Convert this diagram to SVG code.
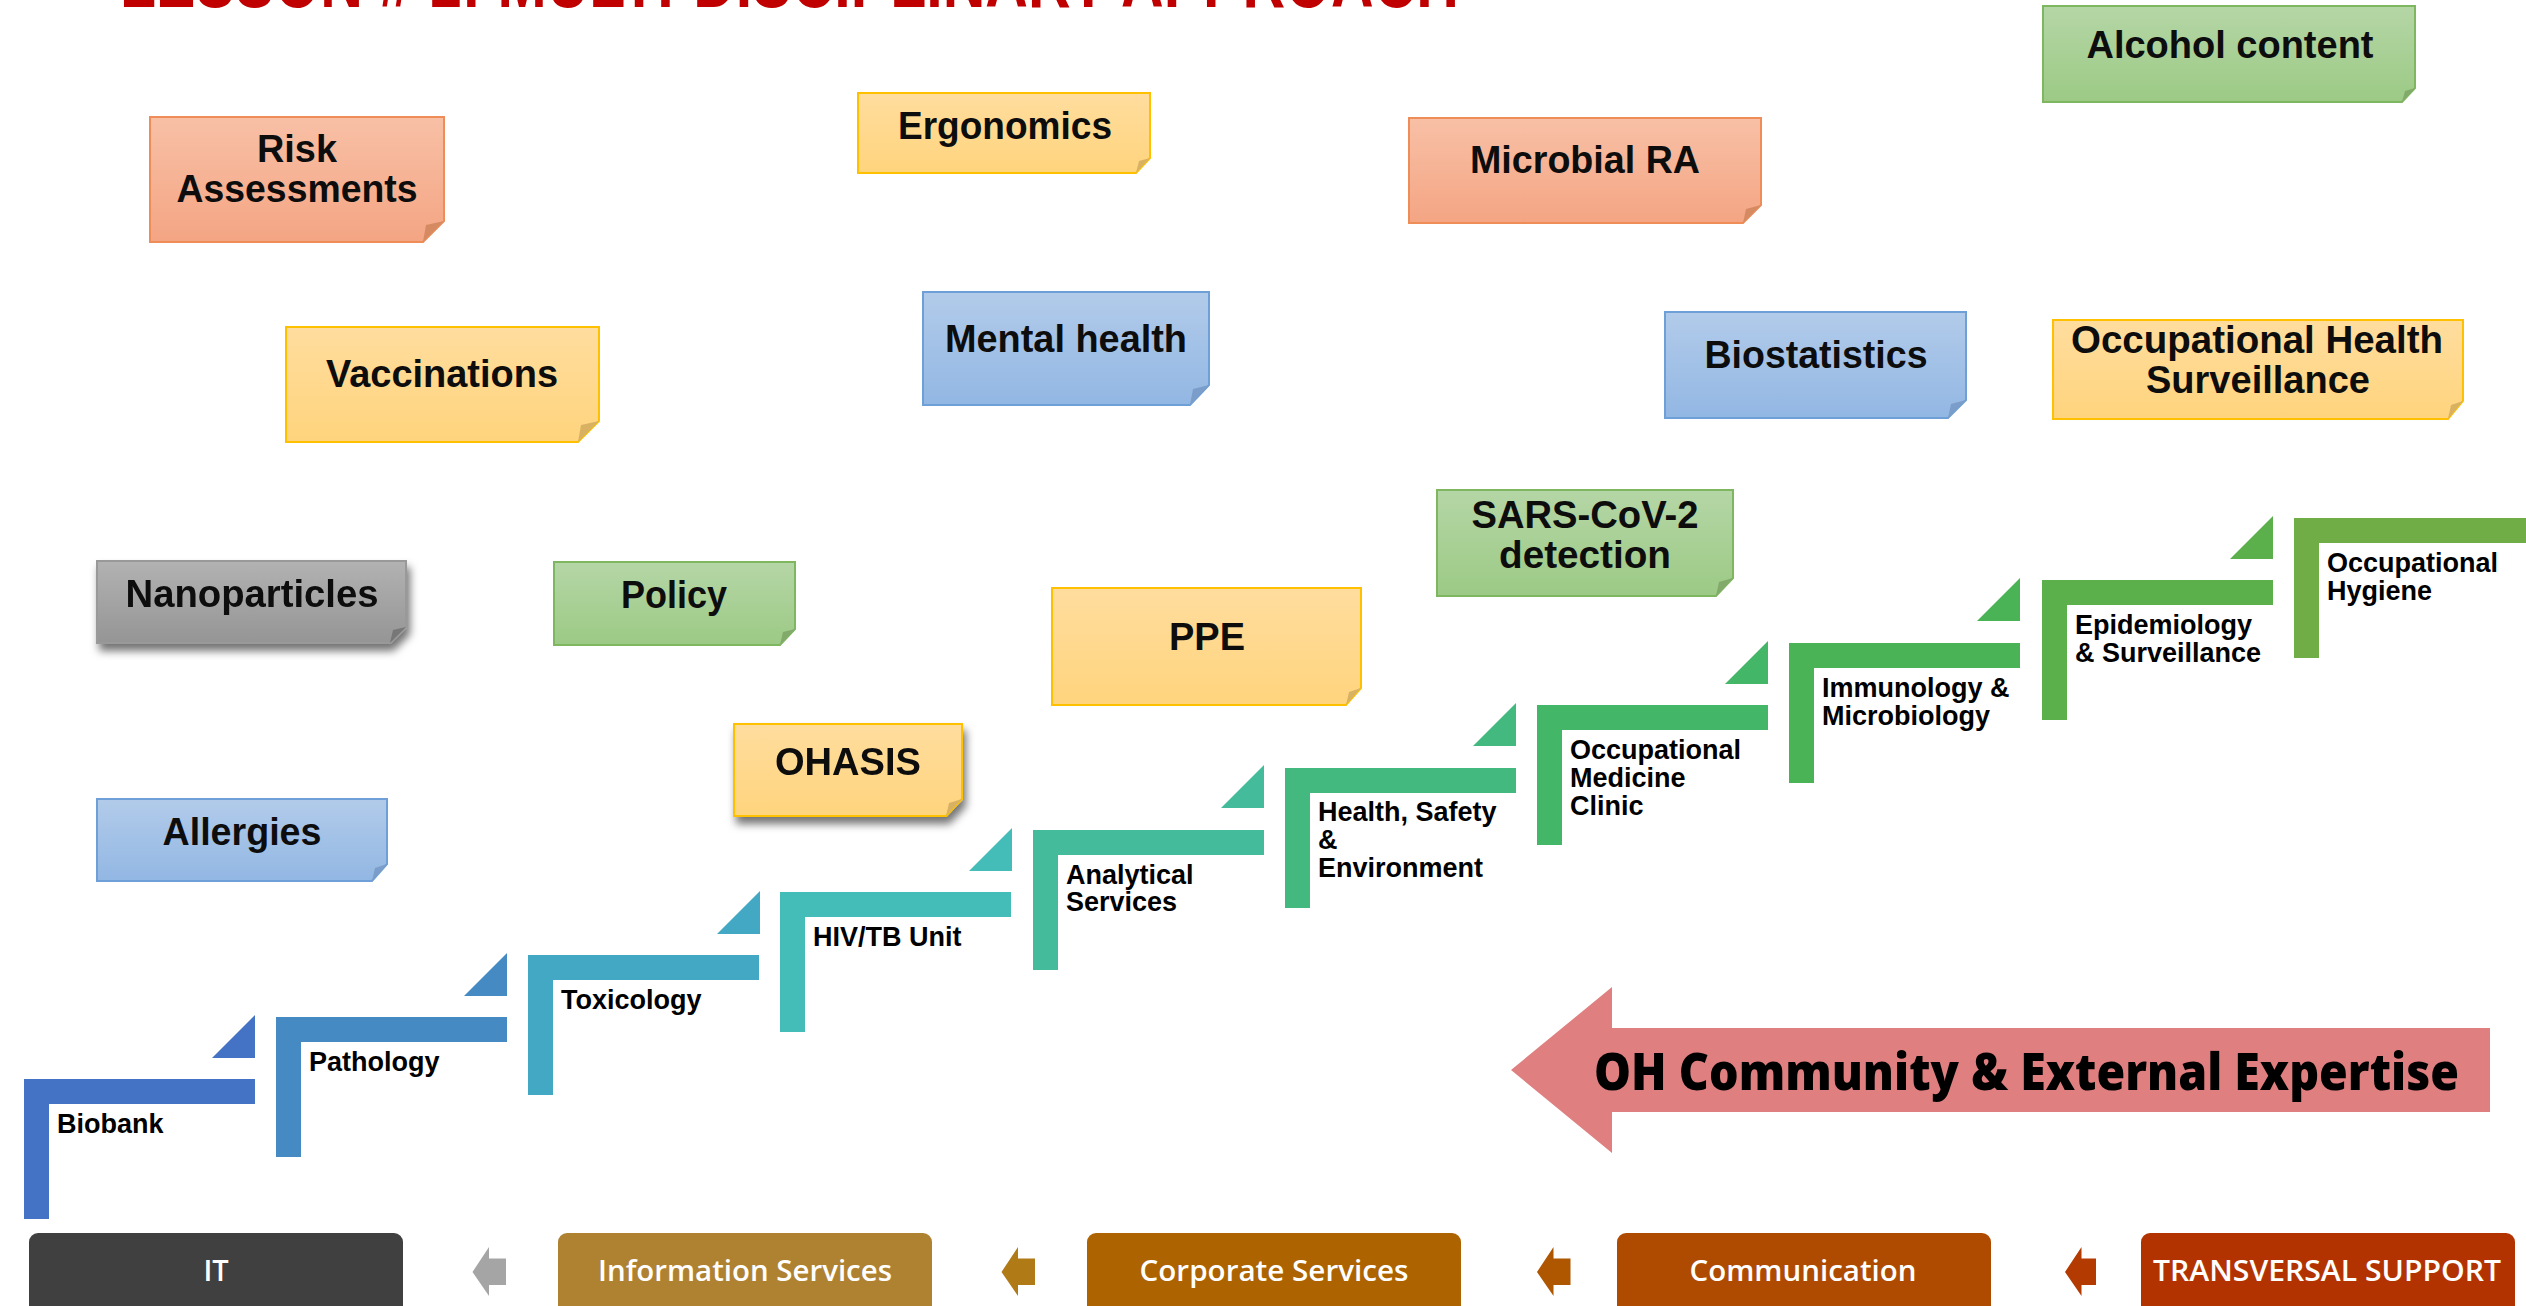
<svg xmlns="http://www.w3.org/2000/svg" width="2526" height="1306" viewBox="0 0 2526 1306">
  <style>
    .note-text { font-family: "Liberation Sans", Arial, sans-serif; font-weight: bold; font-size: 38px; fill: #0d0d0d; text-anchor: middle; }
    .step-text { font-family: "Liberation Sans", Arial, sans-serif; font-weight: bold; font-size: 27px; fill: #000; }
    .band-text { font-family: "Open Sans", "Liberation Sans", sans-serif; font-weight: 600; font-size: 29px; fill: #fff; text-anchor: middle; }
    .title { font-family: "Liberation Sans", Arial, sans-serif; font-weight: bold; font-size: 78px; fill: #C00000; }
    .orange { fill: url(#gOrange); stroke: #EF8D58; stroke-width: 2; }
    .yellow { fill: url(#gYellow); stroke: #FFC000; stroke-width: 2; }
    .blue { fill: url(#gBlue); stroke: #6E9FD6; stroke-width: 2; }
    .green { fill: url(#gGreen); stroke: #7FB660; stroke-width: 2; }
    .gray { fill: url(#gGray); stroke: #999; stroke-width: 2; }
    .fold-orange { fill: #D68A62; }
    .fold-yellow { fill: #D8B262; }
    .fold-blue { fill: #7B9DC9; }
    .fold-green { fill: #82AA6B; }
    .fold-gray { fill: #777; }
  </style>
  <defs>
    <linearGradient id="gOrange" x1="0" y1="0" x2="0" y2="1"><stop offset="0" stop-color="#F8C0A6"/><stop offset="1" stop-color="#F4A583"/></linearGradient>
    <linearGradient id="gYellow" x1="0" y1="0" x2="0" y2="1"><stop offset="0" stop-color="#FFDD9E"/><stop offset="1" stop-color="#FFD47D"/></linearGradient>
    <linearGradient id="gBlue" x1="0" y1="0" x2="0" y2="1"><stop offset="0" stop-color="#B2CBEA"/><stop offset="1" stop-color="#92B7E3"/></linearGradient>
    <linearGradient id="gGreen" x1="0" y1="0" x2="0" y2="1"><stop offset="0" stop-color="#B5D6A6"/><stop offset="1" stop-color="#9CCA85"/></linearGradient>
    <linearGradient id="gGray" x1="0" y1="0" x2="0" y2="1"><stop offset="0" stop-color="#B2B2B2"/><stop offset="1" stop-color="#959595"/></linearGradient>
    <filter id="shadow" x="-10%" y="-20%" width="125%" height="160%">
      <feDropShadow dx="3" dy="7" stdDeviation="4" flood-color="#000" flood-opacity="0.55"/>
    </filter>
  </defs>

  <rect width="2526" height="1306" fill="#fff"/>

  <!-- heading, clipped by the top edge -->
  <text class="title" x="120" y="7" textLength="1339" lengthAdjust="spacingAndGlyphs">LESSON # 1: MULTI-DISCIPLINARY APPROACH</text>

  <!-- sticky notes -->
  <g id="note-risk">
    <polygon class="orange" points="150,117 444,117 444,221 423,242 150,242"/>
    <polygon class="fold-orange" points="423,242 444,221 426,225"/>
    <text class="note-text" x="297" y="162" textLength="80" lengthAdjust="spacingAndGlyphs">Risk</text>
    <text class="note-text" x="297" y="202" textLength="241" lengthAdjust="spacingAndGlyphs">Assessments</text>
  </g>
  <g id="note-ergonomics">
    <polygon class="yellow" points="858,93 1150,93 1150,158 1136,173 858,173"/>
    <polygon class="fold-yellow" points="1136,173 1150,158 1139,161"/>
    <text class="note-text" x="1005" y="139" textLength="214" lengthAdjust="spacingAndGlyphs">Ergonomics</text>
  </g>
  <g id="note-microbial">
    <polygon class="orange" points="1409,118 1761,118 1761,205 1743,223 1409,223"/>
    <polygon class="fold-orange" points="1743,223 1761,205 1746,209"/>
    <text class="note-text" x="1585" y="173" textLength="230" lengthAdjust="spacingAndGlyphs">Microbial RA</text>
  </g>
  <g id="note-alcohol">
    <polygon class="green" points="2043,6 2415,6 2415,88 2402,102 2043,102"/>
    <polygon class="fold-green" points="2402,102 2415,88 2405,91"/>
    <text class="note-text" x="2230" y="58" textLength="287" lengthAdjust="spacingAndGlyphs">Alcohol content</text>
  </g>
  <g id="note-vaccinations">
    <polygon class="yellow" points="286,327 599,327 599,421 578,442 286,442"/>
    <polygon class="fold-yellow" points="578,442 599,421 581,425"/>
    <text class="note-text" x="442" y="387" textLength="232" lengthAdjust="spacingAndGlyphs">Vaccinations</text>
  </g>
  <g id="note-mental">
    <polygon class="blue" points="923,292 1209,292 1209,385 1190,405 923,405"/>
    <polygon class="fold-blue" points="1190,405 1209,385 1193,389"/>
    <text class="note-text" x="1066" y="352" textLength="242" lengthAdjust="spacingAndGlyphs">Mental health</text>
  </g>
  <g id="note-biostatistics">
    <polygon class="blue" points="1665,312 1966,312 1966,400 1948,418 1665,418"/>
    <polygon class="fold-blue" points="1948,418 1966,400 1951,404"/>
    <text class="note-text" x="1816" y="368" textLength="223" lengthAdjust="spacingAndGlyphs">Biostatistics</text>
  </g>
  <g id="note-ohs">
    <polygon class="yellow" points="2053,320 2463,320 2463,401 2448,419 2053,419"/>
    <polygon class="fold-yellow" points="2448,419 2463,401 2451,405"/>
    <text class="note-text" x="2257" y="353" textLength="372" lengthAdjust="spacingAndGlyphs">Occupational Health</text>
    <text class="note-text" x="2258" y="393" textLength="224" lengthAdjust="spacingAndGlyphs">Surveillance</text>
  </g>
  <g id="note-nanoparticles" filter="url(#shadow)">
    <polygon class="gray" points="97,561 406,561 406,627 390,643 97,643"/>
    <polygon class="fold-gray" points="390,643 406,627 393,630"/>
    <text class="note-text" x="252" y="607" textLength="253" lengthAdjust="spacingAndGlyphs">Nanoparticles</text>
  </g>
  <g id="note-policy">
    <polygon class="green" points="554,562 795,562 795,629 780,645 554,645"/>
    <polygon class="fold-green" points="780,645 795,629 783,632"/>
    <text class="note-text" x="674" y="608" textLength="106" lengthAdjust="spacingAndGlyphs">Policy</text>
  </g>
  <g id="note-sars">
    <polygon class="green" points="1437,490 1733,490 1733,578 1716,596 1437,596"/>
    <polygon class="fold-green" points="1716,596 1733,578 1719,582"/>
    <text class="note-text" x="1585" y="528" textLength="227" lengthAdjust="spacingAndGlyphs">SARS-CoV-2</text>
    <text class="note-text" x="1585" y="568" textLength="172" lengthAdjust="spacingAndGlyphs">detection</text>
  </g>
  <g id="note-ppe">
    <polygon class="yellow" points="1052,588 1361,588 1361,688 1346,705 1052,705"/>
    <polygon class="fold-yellow" points="1346,705 1361,688 1349,692"/>
    <text class="note-text" x="1207" y="650" textLength="76" lengthAdjust="spacingAndGlyphs">PPE</text>
  </g>
  <g id="note-ohasis" filter="url(#shadow)">
    <polygon class="yellow" points="734,724 962,724 962,799 946,816 734,816"/>
    <polygon class="fold-yellow" points="946,816 962,799 949,803"/>
    <text class="note-text" x="848" y="775" textLength="146" lengthAdjust="spacingAndGlyphs">OHASIS</text>
  </g>
  <g id="note-allergies">
    <polygon class="blue" points="97,799 387,799 387,864 372,881 97,881"/>
    <polygon class="fold-blue" points="372,881 387,864 375,868"/>
    <text class="note-text" x="242" y="845" textLength="159" lengthAdjust="spacingAndGlyphs">Allergies</text>
  </g>

  <!-- staircase of units: each step is an L bar with a small rising triangle -->
  <g id="step-biobank" fill="#4472C4">
    <path d="M24,1079 h231 v25 h-206 v115 h-25 z"/>
    <polygon points="212,1058 255,1058 255,1015"/>
    <text class="step-text" x="57" y="1133">Biobank</text>
  </g>
  <g id="step-pathology" fill="#468AC3">
    <path d="M276,1017 h231 v25 h-206 v115 h-25 z"/>
    <polygon points="464,996 507,996 507,953"/>
    <text class="step-text" x="309" y="1071">Pathology</text>
  </g>
  <g id="step-toxicology" fill="#43A8C4">
    <path d="M528,955 h231 v25 h-206 v115 h-25 z"/>
    <polygon points="717,934 760,934 760,891"/>
    <text class="step-text" x="561" y="1009">Toxicology</text>
  </g>
  <g id="step-hivtb" fill="#44BDB9">
    <path d="M780,892 h231 v25 h-206 v115 h-25 z"/>
    <polygon points="969,871 1012,871 1012,828"/>
    <text class="step-text" x="813" y="946">HIV/TB Unit</text>
  </g>
  <g id="step-analytical" fill="#44BB9B">
    <path d="M1033,830 h231 v25 h-206 v115 h-25 z"/>
    <polygon points="1221,808 1264,808 1264,765"/>
    <text class="step-text" x="1066" y="884">Analytical</text>
    <text class="step-text" x="1066" y="911">Services</text>
  </g>
  <g id="step-hse" fill="#44B97F">
    <path d="M1285,768 h231 v25 h-206 v115 h-25 z"/>
    <polygon points="1473,746 1516,746 1516,703"/>
    <text class="step-text" x="1318" y="821">Health, Safety</text>
    <text class="step-text" x="1318" y="849">&amp;</text>
    <text class="step-text" x="1318" y="877">Environment</text>
  </g>
  <g id="step-omc" fill="#44B667">
    <path d="M1537,705 h231 v25 h-206 v115 h-25 z"/>
    <polygon points="1725,684 1768,684 1768,641"/>
    <text class="step-text" x="1570" y="759">Occupational</text>
    <text class="step-text" x="1570" y="787">Medicine</text>
    <text class="step-text" x="1570" y="815">Clinic</text>
  </g>
  <g id="step-immunology" fill="#4AB355">
    <path d="M1789,643 h231 v25 h-206 v115 h-25 z"/>
    <polygon points="1977,621 2020,621 2020,578"/>
    <text class="step-text" x="1822" y="697">Immunology &amp;</text>
    <text class="step-text" x="1822" y="725">Microbiology</text>
  </g>
  <g id="step-epidemiology" fill="#5CB04B">
    <path d="M2042,580 h231 v25 h-206 v115 h-25 z"/>
    <polygon points="2230,559 2273,559 2273,516"/>
    <text class="step-text" x="2075" y="634">Epidemiology</text>
    <text class="step-text" x="2075" y="662">&amp; Surveillance</text>
  </g>
  <g id="step-hygiene" fill="#70AD47">
    <path d="M2294,518 h232 v25 h-207 v115 h-25 z"/>
    <text class="step-text" x="2327" y="572">Occupational</text>
    <text class="step-text" x="2327" y="600">Hygiene</text>
  </g>

  <!-- external expertise arrow -->
  <g id="external-expertise">
    <polygon points="1511,1070 1612,987 1612,1028 2490,1028 2490,1112 1612,1112 1612,1153" fill="#E07F80"/>
    <text x="1594" y="1090" font-family="'Open Sans', 'Liberation Sans', sans-serif" font-weight="800" font-size="52" fill="#000" textLength="865" lengthAdjust="spacingAndGlyphs">OH Community &amp; External Expertise</text>
  </g>

  <!-- support band -->
  <g id="band-it">
    <rect x="29" y="1233" width="374" height="100" rx="9" fill="#404040"/>
    <text class="band-text" x="216" y="1281">IT</text>
  </g>
  <g id="band-information">
    <rect x="558" y="1233" width="374" height="100" rx="9" fill="#AF8232"/>
    <text class="band-text" x="745" y="1281" textLength="294" lengthAdjust="spacingAndGlyphs">Information Services</text>
  </g>
  <g id="band-corporate">
    <rect x="1087" y="1233" width="374" height="100" rx="9" fill="#AC6300"/>
    <text class="band-text" x="1274" y="1281" textLength="269" lengthAdjust="spacingAndGlyphs">Corporate Services</text>
  </g>
  <g id="band-communication">
    <rect x="1617" y="1233" width="374" height="100" rx="9" fill="#AE4B00"/>
    <text class="band-text" x="1803" y="1281" textLength="227" lengthAdjust="spacingAndGlyphs">Communication</text>
  </g>
  <g id="band-transversal">
    <rect x="2141" y="1233" width="374" height="100" rx="9" fill="#B33300"/>
    <text class="band-text" x="2327" y="1281" textLength="348" lengthAdjust="spacingAndGlyphs">TRANSVERSAL SUPPORT</text>
  </g>

  <!-- connectors between support units -->
  <g id="connectors">
    <polygon points="472.5,1272 489,1247 489,1258.5 506,1258.5 506,1285 489,1285 489,1296" fill="#A5A5A5"/>
    <polygon points="1001.5,1272 1018,1247 1018,1258.5 1035,1258.5 1035,1285 1018,1285 1018,1296" fill="#B07A16"/>
    <polygon points="1537,1272 1553.5,1247 1553.5,1258.5 1570.5,1258.5 1570.5,1285 1553.5,1285 1553.5,1296" fill="#AE5600"/>
    <polygon points="2065,1272 2081.5,1247 2081.5,1258.5 2096,1258.5 2096,1285 2081.5,1285 2081.5,1296" fill="#B33A00"/>
  </g>
</svg>
